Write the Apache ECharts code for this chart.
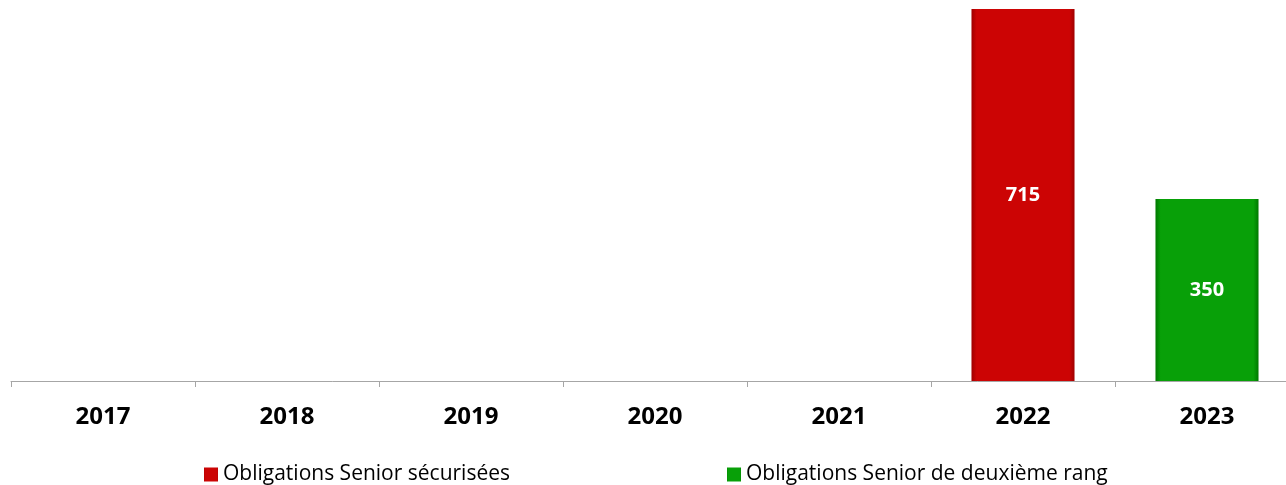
<!DOCTYPE html>
<html>
<head>
<meta charset="utf-8">
<script src="https://cdn.jsdelivr.net/npm/echarts@6/dist/echarts.min.js"></script>
<style>
  html, body { margin: 0; padding: 0; background: #fff; overflow: hidden; }
  /* the drawing is a little wider than the window; its right edge is cut off */
  #chart { width: 1299px; height: 485px; }
</style>
</head>
<body>
<div id="chart"></div>
<script>
// Issuance by year (stacked, one instrument per year)
const years = ['2017', '2018', '2019', '2020', '2021', '2022', '2023'];
const seniorSecured = [null, null, null, null, null, 715, null];
const seniorNonPreferred = [null, null, null, null, null, null, 350];
const seriesNames = ['Obligations Senior sécurisées', 'Obligations Senior de deuxième rang'];

const font = '"Open Sans", "Noto Sans", sans-serif';

function bevel(edge, mid) {
  return new echarts.graphic.LinearGradient(0, 0, 1, 0, [
    { offset: 0, color: edge },
    { offset: 0.05, color: mid },
    { offset: 0.95, color: mid },
    { offset: 1, color: edge }
  ]);
}

const chart = echarts.init(document.getElementById('chart'), null, { renderer: 'canvas' });

const label = {
  show: true,
  position: 'inside',
  color: '#ffffff',
  fontFamily: font,
  fontWeight: 'bold',
  fontSize: 20
};

const legendText = { fontFamily: font, fontSize: 21, color: '#000' };

chart.setOption({
  animation: false,
  grid: { left: 11, right: 0, top: 9, bottom: 104, containLabel: false },
  legend: [
    {
      data: [seriesNames[0]],
      left: 199, top: 459,
      itemWidth: 14, itemHeight: 14,
      icon: 'rect',
      textStyle: legendText
    },
    {
      data: [seriesNames[1]],
      left: 722, top: 459,
      itemWidth: 14, itemHeight: 14,
      icon: 'rect',
      textStyle: legendText
    }
  ],
  xAxis: {
    type: 'category',
    data: years,
    axisLine: { lineStyle: { color: '#a6a6a6', width: 1 } },
    axisTick: { show: true, length: 6, lineStyle: { color: '#a6a6a6' } },
    axisLabel: {
      margin: 24,
      color: '#000',
      fontFamily: font,
      fontWeight: 'bold',
      fontSize: 24
    }
  },
  yAxis: {
    type: 'value',
    min: 0,
    max: 715,
    show: false,
    splitLine: { show: false }
  },
  series: [
    {
      name: seriesNames[0],
      type: 'bar',
      stack: 'total',
      barWidth: '56%',
      data: seniorSecured,
      itemStyle: { color: bevel('#a00000', '#cc0404') },
      label: label
    },
    {
      name: seriesNames[1],
      type: 'bar',
      stack: 'total',
      barWidth: '56%',
      data: seniorNonPreferred,
      itemStyle: { color: bevel('#007800', '#08a008') },
      label: label
    }
  ]
});
</script>
</body>
</html>
